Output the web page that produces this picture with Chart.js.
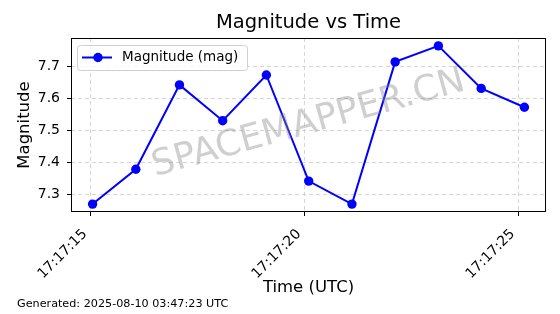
<!DOCTYPE html>
<html><head><meta charset="utf-8">
<script src="https://cdn.jsdelivr.net/npm/chart.js@4"></script>
<style>html,body{margin:0;padding:0;background:#fff}#wrap{width:560px;height:314px}</style>
</head><body><div id="wrap"><canvas id="c" width="560" height="314"></canvas></div>
<script>
const times = ["17:17:15.04","17:17:16.05","17:17:17.07","17:17:18.08","17:17:19.10","17:17:20.09","17:17:21.10","17:17:22.11","17:17:23.12","17:17:24.12","17:17:25.13"];
const magnitudes = [7.269, 7.378, 7.642, 7.530, 7.673, 7.341, 7.269, 7.714, 7.764, 7.631, 7.572];
const xTickLabels = ["17:17:15", "17:17:20", "17:17:25"];
const yTickValues = [7.3, 7.4, 7.5, 7.6, 7.7];
const seriesLabel = "Magnitude (mag)";
const titleText = "Magnitude vs Time";
const xTitle = "Time (UTC)";
const yTitle = "Magnitude";
const footerText = "Generated: 2025-08-10 03:47:23 UTC";
const watermarkText = "SPACEMAPPER.CN";

const FONT = "'DejaVu Sans', sans-serif";
const toSec = t => { const p = t.split(':').map(Number); return p[0]*3600 + p[1]*60 + p[2]; };
const pad2 = n => String(n).padStart(2, '0');
const fmt = v => { v = Math.round(v); return pad2(Math.floor(v/3600)) + ':' + pad2(Math.floor(v/60)%60) + ':' + pad2(v%60); };

const xs = times.map(toSec);
const xMin = Math.min(...xs), xMax = Math.max(...xs);
const yMinD = Math.min(...magnitudes), yMaxD = Math.max(...magnitudes);
const xm = (xMax - xMin) * 0.05, ym = (yMaxD - yMinD) * 0.05;

const decor = {
  id: 'decor',
  afterDatasetsDraw(chart) {
    const ctx = chart.ctx, a = chart.chartArea;
    ctx.save();
    ctx.translate((a.left + a.right) / 2, (a.top + a.bottom) / 2 - 1);
    ctx.rotate(-15.5 * Math.PI / 180);
    ctx.font = "36px " + FONT;
    ctx.fillStyle = "rgba(128,128,128,0.38)";
    ctx.textAlign = "center";
    ctx.textBaseline = "middle";
    ctx.fillText(watermarkText, 0, 0);
    ctx.restore();
  },
  afterDraw(chart) {
    const ctx = chart.ctx, a = chart.chartArea;
    ctx.save();
    // frame
    ctx.strokeStyle = "#000";
    ctx.lineWidth = 1;
    ctx.strokeRect(Math.round(a.left) + 0.5, Math.round(a.top) + 0.5, Math.round(a.right - a.left) - 1, Math.round(a.bottom - a.top) - 1);
    // title
    ctx.fillStyle = "#000";
    ctx.font = "19.5px " + FONT;
    ctx.textAlign = "center";
    ctx.textBaseline = "middle";
    ctx.fillText(titleText, (a.left + a.right) / 2, 23);
    // legend
    const lx = a.left + 6, ly = a.top + 7, lw = 170, lh = 25;
    ctx.beginPath();
    ctx.roundRect(lx + 0.5, ly + 0.5, lw, lh, 3);
    ctx.fillStyle = "rgba(255,255,255,0.8)";
    ctx.fill();
    ctx.strokeStyle = "#d0d0d0";
    ctx.lineWidth = 1;
    ctx.stroke();
    const cy = ly + 12.5;
    ctx.beginPath();
    ctx.moveTo(lx + 5, cy);
    ctx.lineTo(lx + 35, cy);
    ctx.strokeStyle = "#0000ff";
    ctx.lineWidth = 2;
    ctx.stroke();
    ctx.beginPath();
    ctx.arc(lx + 21, cy, 4.7, 0, Math.PI * 2);
    ctx.fillStyle = "#0000ff";
    ctx.fill();
    ctx.fillStyle = "#000";
    ctx.font = "13.5px " + FONT;
    ctx.textAlign = "left";
    ctx.fillText(seriesLabel, lx + 45, cy);
    // footer
    ctx.font = "11.2px " + FONT;
    ctx.fillText(footerText, 17, 304);
    ctx.restore();
  }
};

new Chart(document.getElementById('c'), {
  type: 'line',
  data: {
    datasets: [{
      label: seriesLabel,
      data: xs.map((x, i) => ({ x: x, y: magnitudes[i] })),
      borderColor: '#0000ff',
      backgroundColor: '#0000ff',
      borderWidth: 2,
      pointRadius: 4.7,
      pointHoverRadius: 4.7,
      pointBorderWidth: 0,
      tension: 0,
      fill: false,
      clip: false
    }]
  },
  options: {
    responsive: false,
    animation: false,
    devicePixelRatio: 1,
    layout: { padding: { left: 0, right: 14, top: 38, bottom: 0 } },
    plugins: { legend: { display: false }, title: { display: false }, tooltip: { enabled: false } },
    scales: {
      x: {
        type: 'linear',
        min: xMin - xm, max: xMax + xm,
        afterBuildTicks: s => { s.ticks = xTickLabels.map(t => ({ value: toSec(t) })); },
        afterFit: s => { s.height = 102; },
        ticks: { callback: v => fmt(v), minRotation: 45, maxRotation: 45, color: '#000', font: { family: FONT, size: 14 }, padding: 10, labelOffset: -6 },
        grid: { color: '#cccccc', lineWidth: 0.8, drawTicks: true, tickLength: 4, tickColor: '#000', tickBorderDash: [], tickWidth: 1 },
        border: { display: false, color: '#000', dash: [4, 3] },
        title: { display: true, text: xTitle, color: '#000', font: { family: FONT, size: 16.5 }, padding: { top: 4, bottom: 16 } }
      },
      y: {
        type: 'linear',
        min: yMinD - ym, max: yMaxD + ym,
        afterBuildTicks: s => { s.ticks = yTickValues.map(v => ({ value: v })); },
        afterFit: s => { s.width = 71; },
        ticks: { callback: v => v.toFixed(1), color: '#000', font: { family: FONT, size: 14 }, padding: 7 },
        grid: { color: '#cccccc', lineWidth: 0.8, drawTicks: true, tickLength: 4, tickColor: '#000', tickBorderDash: [], tickWidth: 1 },
        border: { display: false, color: '#000', dash: [4, 3] },
        title: { display: true, text: yTitle, color: '#000', font: { family: FONT, size: 16.5 }, padding: { top: 15, bottom: 0 } }
      }
    }
  },
  plugins: [decor]
});
</script></body></html>
